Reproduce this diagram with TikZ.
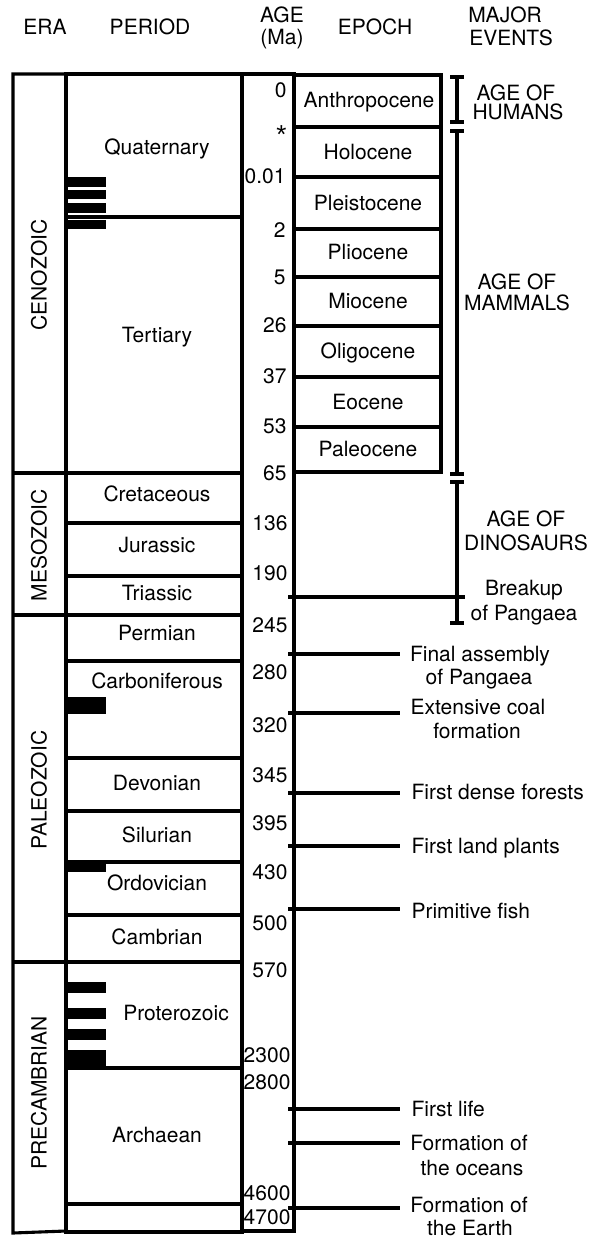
\documentclass[tikz,border=0pt]{standalone}
\usepackage{fontspec}
\setmainfont{TeX Gyre Heros}
\newfontfamily\starfont{Liberation Sans}
\begin{document}
\begin{tikzpicture}[x=1pt,y=-1pt,
  line width=3.1pt,
  lbl/.style={font=\fontsize{21}{24}\selectfont, inner sep=0pt, text height=15pt, text depth=0pt},
  agel/.style={lbl, anchor=east},
  evw/.style={lbl, anchor=west},
  vlab/.style={lbl, rotate=90},
  barfill/.style={fill=black, draw=none},
  rule/.style={line width=3.1pt},
  capline/.style={line width=3.1pt},
]
\useasboundingbox (0,0) rectangle (601,1240);

% ---------- headers ----------
\node[lbl] (hEra) at (45,27) {ERA};
\node[lbl] (hPer) at (150,27) {PERIOD};
\node[lbl] (hAge1) at (282,15) {AGE};
\node[lbl] (hAge2) at (282,37) {(Ma)};
\node[lbl] (hEpo) at (375,27) {EPOCH};
\node[lbl] (hEvt1) at (505,15) {MAJOR};
\node[lbl] (hEvt2) at (511,38) {EVENTS};

% ---------- column frames ----------
\draw[rule] (66,74) -- (13,74) -- (13,1233) -- (66,1231);
\draw[rule] (66,74) rectangle (242,1232);
\draw[rule] (242,74) -- (294,74) -- (294,1231) -- (242,1231);

% era dividers
\foreach \yy in {473,615,962} \draw[rule] (13,\yy) -- (242,\yy);
% period dividers
\foreach \yy in {217,523,576,661,758,811,862,915,1068,1204} \draw[rule] (66,\yy) -- (242,\yy);

% black bars
\foreach \ya/\yb in {177/187,190/199,203/213,220/229,697/714,862/872,982/993,1008/1019,1029/1040,1050/1070}
  \fill[barfill] (66,\ya) rectangle (106,\yb);

% epoch box
\draw[rule] (294,75) rectangle (441,472);
\foreach \yy in {127,177,229,277,326,377,427} \draw[rule] (294,\yy) -- (441,\yy);

% ---------- era labels ----------
\node[vlab] (eCen) at (39,275) {CENOZOIC};
\node[vlab] (eMes) at (39,545) {MESOZOIC};
\node[vlab] (ePal) at (39,790) {PALEOZOIC};
\node[vlab] (ePre) at (39,1093) {PRECAMBRIAN};

% ---------- period labels ----------
\node[lbl] (pQua) at (157,147) {Quaternary};
\node[lbl] (pTer) at (157,335) {Tertiary};
\node[lbl] (pCre) at (157,494) {Cretaceous};
\node[lbl] (pJur) at (157,545) {Jurassic};
\node[lbl] (pTri) at (157,593) {Triassic};
\node[lbl] (pPer) at (157,633) {Permian};
\node[lbl] (pCar) at (157,681) {Carboniferous};
\node[lbl] (pDev) at (157,783) {Devonian};
\node[lbl] (pSil) at (157,835) {Silurian};
\node[lbl] (pOrd) at (157,883) {Ordovician};
\node[lbl] (pCam) at (157,937) {Cambrian};
\node[lbl] (pPro) at (176,1013) {Proterozoic};
\node[lbl] (pArc) at (157,1135) {Archaean};

% ---------- age labels ----------
\node[agel] (a0) at (288,90) {0};
\node[font=\starfont\fontsize{26}{26}\selectfont, inner sep=0pt, anchor=base east] (aStar) at (288,143) {*};
\node[agel] (a001) at (287,176) {0.01};
\node[agel] (a2) at (287,230) {2};
\node[agel] (a5) at (287,277) {5};
\node[agel] (a26) at (288,325) {26};
\node[agel] (a37) at (288,376) {37};
\node[agel] (a53) at (288,426) {53};
\node[agel] (a65) at (288,473) {65};
\node[agel] (a136) at (289,523) {136};
\node[agel] (a190) at (289,573) {190};
\node[agel] (a245) at (289,625) {245};
\node[agel] (a280) at (289,672) {280};
\node[agel] (a320) at (289,725) {320};
\node[agel] (a345) at (289,775) {345};
\node[agel] (a395) at (289,823) {395};
\node[agel] (a430) at (289,872) {430};
\node[agel] (a500) at (289,923) {500};
\node[agel] (a570) at (289,970) {570};
\node[agel] (a2300) at (292,1055) {2300};
\node[agel] (a2800) at (292,1082) {2800};
\node[agel] (a4600) at (292,1193) {4600};
\node[agel] (a4700) at (292,1217) {4700};

% ---------- epoch labels ----------
\node[lbl] (epAnt) at (369,100) {Anthropocene};
\node[lbl] (epHol) at (368,152) {Holocene};
\node[lbl] (epPle) at (368,203) {Pleistocene};
\node[lbl] (epPli) at (368,252) {Pliocene};
\node[lbl] (epMio) at (368,301) {Miocene};
\node[lbl] (epOli) at (368,351) {Oligocene};
\node[lbl] (epEoc) at (368,402) {Eocene};
\node[lbl] (epPal) at (368,449) {Paleocene};

% ---------- brackets ----------
\coordinate (hTop) at (457,77);   \coordinate (hBot) at (457,122);
\coordinate (mTop) at (457,131);  \coordinate (mBot) at (457,474);
\coordinate (dTop) at (457,482);  \coordinate (dBot) at (457,623);
\foreach \c in {hTop,hBot,mTop,mBot,dTop,dBot}
  \draw[capline] ([xshift=-7pt]\c) -- ([xshift=7pt]\c);
\draw[rule] (hTop) -- (hBot);
\draw[rule] (mTop) -- (mBot);
\draw[rule] (dTop) -- (dBot);

\node[lbl] (tHum1) at (516,93) {AGE OF};
\node[lbl] (tHum2) at (518,112) {HUMANS};
\node[lbl] (tMam1) at (517,282) {AGE OF};
\node[lbl] (tMam2) at (517,303) {MAMMALS};
\node[lbl] (tDin1) at (526,519) {AGE OF};
\node[lbl] (tDin2) at (526,543) {DINOSAURS};

% ---------- events ----------
\node[lbl] (tBrk1) at (524,588) {Breakup};
\node[lbl] (tBrk2) at (524,613) {of Pangaea};
\node[lbl] (tFin1) at (480,654) {Final assembly};
\node[lbl] (tFin2) at (479,677) {of Pangaea};
\node[lbl] (tCoa1) at (478,707) {Extensive coal};
\node[lbl] (tCoa2) at (477,731) {formation};
\node[evw] (tFor) at (410,792) {First dense forests};
\node[evw] (tLan) at (410,846) {First land plants};
\node[evw] (tFis) at (410,911) {Primitive fish};
\node[evw] (tLif) at (410,1109) {First life};
\node[lbl] (tOce1) at (469,1143) {Formation of};
\node[lbl] (tOce2) at (472,1168) {the oceans};
\node[lbl] (tEar1) at (469,1205) {Formation of};
\node[lbl] (tEar2) at (470,1228) {the Earth};

\coordinate (sBrk) at (288,597); \coordinate (eBrk) at (465,597);
\draw[rule] (sBrk) -- (eBrk);
\foreach \nm/\yy in {Fin/654,Coa/713,For/793,Lan/846,Fis/909,Lif/1109,Oce/1143,Ear/1208}{
  \coordinate (s\nm) at (288,\yy);
  \coordinate (e\nm) at (400,\yy);
  \draw[rule] (s\nm) -- (e\nm);
}
\end{tikzpicture}
\end{document}
